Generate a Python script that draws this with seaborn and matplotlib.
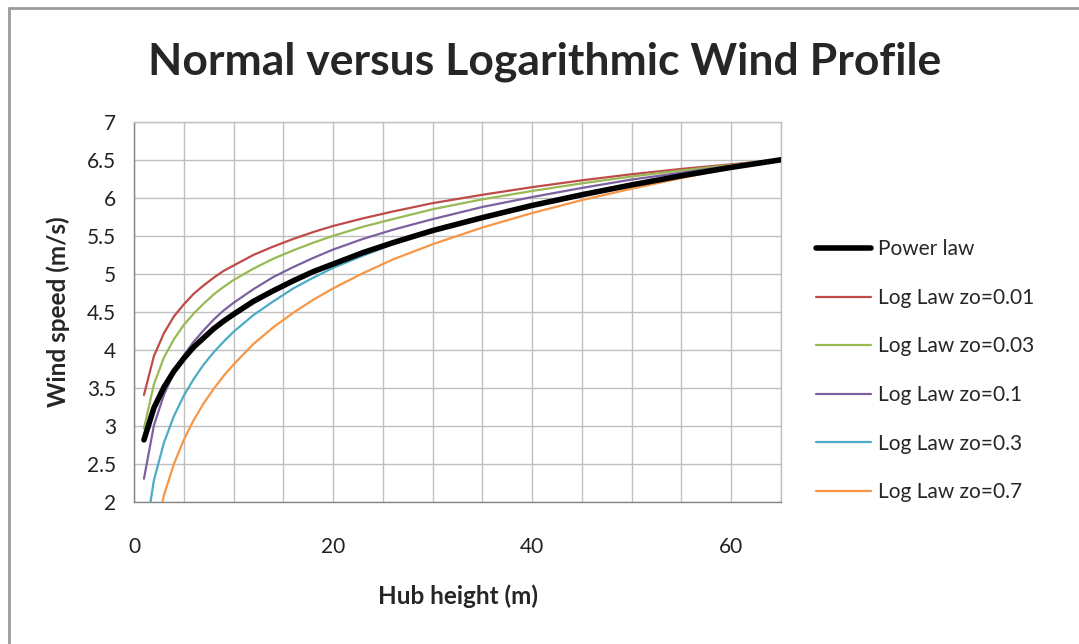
import matplotlib
matplotlib.use("Agg")
import matplotlib.pyplot as plt
import seaborn as sns
import pandas as pd
from matplotlib.lines import Line2D
from matplotlib.ticker import MultipleLocator

# ---- data ----
hub_height = [1, 2, 3, 4, 5, 6, 7, 8, 9, 10, 12, 14, 16, 18, 20, 23, 26, 30,
              35, 40, 45, 50, 55, 60, 65]
power_law = [2.82, 3.24, 3.51, 3.72, 3.89, 4.04, 4.16, 4.28, 4.38, 4.47, 4.64,
             4.78, 4.91, 5.03, 5.13, 5.28, 5.41, 5.57, 5.74, 5.90, 6.04, 6.17,
             6.29, 6.40, 6.50]
log_001 = [3.41, 3.92, 4.22, 4.44, 4.60, 4.74, 4.85, 4.95, 5.04, 5.11, 5.25,
           5.36, 5.46, 5.55, 5.63, 5.73, 5.82, 5.93, 6.04, 6.14, 6.23, 6.31,
           6.38, 6.44, 6.50]
log_003 = [2.97, 3.55, 3.90, 4.14, 4.33, 4.48, 4.61, 4.73, 4.83, 4.92, 5.07,
           5.20, 5.31, 5.41, 5.50, 5.62, 5.72, 5.85, 5.98, 6.09, 6.19, 6.28,
           6.36, 6.43, 6.50]
log_01 = [2.31, 3.01, 3.41, 3.70, 3.93, 4.11, 4.26, 4.40, 4.52, 4.62, 4.80,
          4.96, 5.09, 5.21, 5.32, 5.46, 5.58, 5.72, 5.88, 6.01, 6.13, 6.24,
          6.33, 6.42, 6.50]
log_03 = [1.46, 2.29, 2.78, 3.13, 3.40, 3.62, 3.81, 3.97, 4.11, 4.24, 4.46,
          4.64, 4.81, 4.95, 5.08, 5.24, 5.39, 5.57, 5.75, 5.91, 6.06, 6.18,
          6.30, 6.40, 6.50]
log_07 = [0.51, 1.51, 2.09, 2.50, 2.82, 3.08, 3.30, 3.49, 3.66, 3.81, 4.08,
          4.30, 4.49, 4.66, 4.81, 5.01, 5.19, 5.39, 5.61, 5.80, 5.97, 6.12,
          6.26, 6.39, 6.50]

series_names = ["Power law", "Log Law zo=0.01", "Log Law zo=0.03",
                "Log Law zo=0.1", "Log Law zo=0.3", "Log Law zo=0.7"]
series_values = [power_law, log_001, log_003, log_01, log_03, log_07]
colors = ["#000000", "#BE4B48", "#98B954", "#7D60A0", "#4BACC6", "#F79646"]
widths = [4.0, 1.6, 1.6, 1.6, 1.6, 1.6]

x_ticks = [0, 20, 40, 60]
y_ticks = [2, 2.5, 3, 3.5, 4, 4.5, 5, 5.5, 6, 6.5, 7]

rows = []
for name, vals in zip(series_names, series_values):
    for h, v in zip(hub_height, vals):
        rows.append({"Hub height (m)": h, "Wind speed (m/s)": v, "series": name})
df = pd.DataFrame(rows)

sns.set_theme(style="white")
plt.rcParams["font.family"] = ["Lato", "DejaVu Sans"]

W, H = 1079, 644
fig = plt.figure(figsize=(W / 100, H / 100), dpi=100)
ax = fig.add_axes([134 / W, 1 - 502.3 / H, (781 - 134) / W, (502.3 - 121.7) / H])

for name, col, lw in zip(series_names, colors, widths):
    sub = df[df["series"] == name]
    sns.lineplot(data=sub, x="Hub height (m)", y="Wind speed (m/s)", ax=ax,
                 color=col, linewidth=lw, label=name, sort=False,
                 zorder=5 if name == "Power law" else 3,
                 solid_capstyle="round")

ax.set_xlim(0, 65)
ax.set_ylim(2, 7)
ax.set_xticks(x_ticks)
ax.xaxis.set_minor_locator(MultipleLocator(5))
ax.set_yticks(y_ticks)
ax.set_yticklabels([f"{t:g}" for t in y_ticks])
ax.grid(True, which="both", axis="x", color="#BFBFBF", linewidth=1.0)
ax.grid(True, which="major", axis="y", color="#BFBFBF", linewidth=1.0)
ax.set_axisbelow(True)

for s in ["top", "right"]:
    ax.spines[s].set_color("#BFBFBF")
    ax.spines[s].set_linewidth(1.0)
for s in ["left", "bottom"]:
    ax.spines[s].set_color("#868686")
    ax.spines[s].set_linewidth(1.0)

ax.tick_params(axis="both", which="major", direction="out", length=7,
               width=1, color="#868686", labelsize=15, labelcolor="#222222")
ax.tick_params(axis="x", which="minor", length=0)
ax.tick_params(axis="x", which="major", pad=18)
ax.tick_params(axis="y", which="major", pad=6)

ax.set_xlabel("Hub height (m)", fontsize=17.5, fontweight="bold", labelpad=20)
ax.set_ylabel("Wind speed (m/s)", fontsize=17.5, fontweight="bold", labelpad=12)

handles, labels = ax.get_legend_handles_labels()
if ax.legend_:
    ax.legend_.remove()
fig.legend(handles, labels, loc="upper left",
           bbox_to_anchor=(808 / W, 1 - 231 / H), frameon=False,
           fontsize=15, handlelength=2.6, handletextpad=0.35,
           labelspacing=1.37, borderaxespad=0)

fig.suptitle("Normal versus Logarithmic Wind Profile", x=545 / W,
             y=1 - 62 / H, va="center", fontsize=32, fontweight="bold")

# chart-area border (top and left edges visible in the reference)
fig.add_artist(Line2D([9 / W, 9 / W], [0, 1 - 8 / H], transform=fig.transFigure,
                      color="#9A9A9A", linewidth=2))
fig.add_artist(Line2D([9 / W, 1.01], [1 - 8 / H, 1 - 8 / H], transform=fig.transFigure,
                      color="#9A9A9A", linewidth=2))

fig.savefig("out.png", dpi=100)
